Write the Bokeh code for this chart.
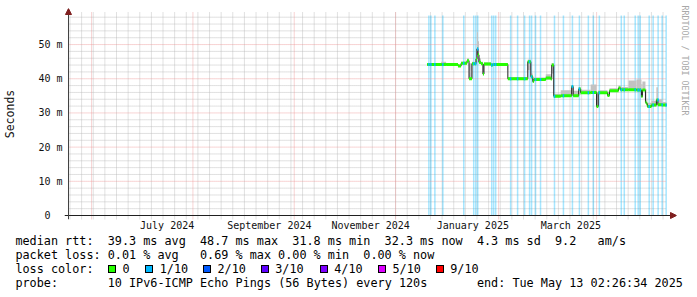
import numpy as np
import pandas as pd
from bokeh.plotting import figure
from bokeh.layouts import column
from bokeh.models import (Range1d, FixedTicker, Title, Arrow, NormalHead,
                          ColumnDataSource, Div)
from bokeh.embed import file_html
from bokeh.resources import INLINE

# ---------------------------------------------------------------- data
END_TIME = "2025-05-13 02:26:34"
SPAN_DAYS = 360

sample_time = [
    "2024-12-20 00:00", "2024-12-28 10:00", "2024-12-31 10:00", "2025-01-07 14:00",
    "2025-01-09 10:00", "2025-01-13 00:00", "2025-01-14 05:00", "2025-01-16 00:00",
    "2025-01-18 10:00", "2025-01-19 00:00", "2025-01-19 14:00", "2025-01-20 05:00",
    "2025-01-21 10:00", "2025-01-22 14:00", "2025-01-23 05:00", "2025-01-27 10:00",
    "2025-01-28 14:00", "2025-02-06 14:00", "2025-02-18 14:00", "2025-02-20 10:00",
    "2025-02-21 14:00", "2025-02-22 05:00", "2025-03-01 10:00", "2025-03-04 10:00",
    "2025-03-05 00:00", "2025-03-06 05:00", "2025-03-10 10:00", "2025-03-17 00:00",
    "2025-03-17 22:00", "2025-03-21 05:00", "2025-03-22 10:00", "2025-03-28 10:00",
    "2025-04-01 00:00", "2025-04-02 00:00", "2025-04-07 14:00", "2025-04-08 18:00",
    "2025-04-14 05:00", "2025-04-15 10:00", "2025-04-20 05:00", "2025-04-25 00:00",
    "2025-04-28 00:00", "2025-04-28 14:00", "2025-04-30 10:00", "2025-05-01 00:00",
    "2025-05-01 14:00", "2025-05-04 00:00", "2025-05-07 00:00", "2025-05-07 22:00",
    "2025-05-10 14:00",
]
median_ms = [44.2, 44.2, 44.2, 43.7, 44.5, 45.3, 40.0, 44.4, 45.8, 48.7, 47.0, 44.8,
             44.4, 41.4, 44.3, 44.0, 44.2, 40.0, 45.0, 40.6, 39.2, 39.8, 40.2, 39.9,
             44.0, 34.9, 35.0, 37.7, 35.0, 37.0, 35.9, 36.0, 31.9, 35.9, 35.1, 36.5,
             37.3, 36.8, 36.8, 36.7, 34.8, 36.7, 33.1, 32.7, 31.9, 32.3, 33.8, 32.4,
             32.3]
smoke_lo_ms = [43.9, 43.9, 43.9, 43.4, 44.1, 44.8, 39.6, 44.0, 44.8, 45.5, 44.8, 44.3,
               44.0, 41.0, 43.9, 43.7, 43.9, 39.7, 42.5, 40.2, 38.9, 39.5, 39.8, 39.6,
               41.5, 34.6, 34.7, 35.3, 34.7, 35.3, 35.6, 35.7, 31.6, 35.6, 34.8, 36.2,
               36.9, 36.5, 36.5, 36.4, 34.5, 36.4, 32.8, 32.3, 31.6, 31.9, 32.1, 32.0,
               32.0]
smoke_hi_ms = [44.6, 45.0, 44.6, 44.2, 45.0, 46.0, 44.5, 45.0, 49.0, 53.6, 51.0, 46.0,
               45.0, 44.2, 44.8, 44.5, 44.6, 40.5, 45.6, 41.5, 40.0, 40.4, 41.3, 41.4,
               44.6, 35.6, 36.6, 38.2, 36.5, 37.5, 36.8, 38.3, 36.2, 36.6, 36.2, 37.2,
               38.0, 37.6, 39.5, 39.8, 38.5, 39.2, 37.0, 34.2, 33.0, 33.6, 37.5, 34.0,
               33.2]

loss_time = [
    "2024-12-20 14:00", "2024-12-21 19:00", "2024-12-24 05:00", "2024-12-29 00:00",
    "2025-01-10 14:00", "2025-01-16 14:00", "2025-01-17 19:00", "2025-01-19 00:00",
    "2025-01-27 10:00", "2025-01-28 14:00", "2025-01-29 19:00", "2025-02-07 19:00",
    "2025-02-12 00:00", "2025-02-16 05:00", "2025-02-19 05:00", "2025-02-20 10:00",
    "2025-02-22 19:00", "2025-02-25 19:00", "2025-03-06 05:00", "2025-03-11 14:00",
    "2025-03-17 00:00", "2025-03-21 05:00", "2025-03-26 14:00", "2025-03-29 14:00",
    "2025-04-02 05:00", "2025-04-15 10:00", "2025-04-17 05:00", "2025-04-23 19:00",
    "2025-04-25 14:00", "2025-04-26 19:00", "2025-05-02 05:00", "2025-05-04 14:00",
    "2025-05-07 14:00", "2025-05-10 00:00", "2025-05-12 10:00",
]
loss_pings = [1, 1, 1, 1, 1, 1, 1, 1, 1, 1, 1, 1, 1, 1, 1, 1, 1, 1,
              1, 1, 1, 1, 1, 1, 1, 1, 1, 1, 1, 1, 1, 1, 1, 1, 1]

y_tick_values = [0, 10, 20, 30, 40, 50]
y_tick_labels = ["0\u00a0\u00a0", "10 m", "20 m", "30 m", "40 m", "50 m"]
label_months = ["2024-07", "2024-09", "2024-11", "2025-01", "2025-03"]
label_texts = ["July 2024", "September 2024", "November 2024", "January 2025", "March 2025"]
major_grid_dates = ["2024-06-01", "2024-08-01", "2024-10-01", "2024-12-01",
                    "2025-02-01", "2025-04-01"]

rtt_stat_names = ["avg", "max", "min", "now", "sd"]
rtt_stat_values = [39.3, 48.7, 31.8, 32.3, 4.3]
rtt_am_s = 9.2
loss_stat_names = ["avg", "max", "min", "now"]
loss_stat_values = [0.01, 0.69, 0.00, 0.00]
loss_color_labels = ["0", "1/10", "2/10", "3/10", "4/10", "5/10", "9/10"]
loss_color_hex = ["#26ff00", "#00b8ff", "#0059ff", "#5e00ff", "#7e00ff", "#dd00ff", "#ff0000"]
probe_text = "10 IPv6-ICMP Echo Pings (56 Bytes) every 120s"

# ---------------------------------------------------------------- helpers
def ms(ts):
    return int(pd.Timestamp(ts).value // 10**6)

FONT = "DejaVu Sans Mono"
t_end = pd.Timestamp(END_TIME)
t_start = t_end - pd.Timedelta(days=SPAN_DAYS)
Y_MAX = 58.5
PX_PER_DAY = 600 / SPAN_DAYS
PX_PER_MS = 200 / Y_MAX
x_lo = t_start - pd.Timedelta(days=4 / PX_PER_DAY)
x_hi = t_end + pd.Timedelta(days=10 / PX_PER_DAY)
y_lo = -4 / PX_PER_MS
y_hi = Y_MAX + 7 / PX_PER_MS
GRID_TOP = Y_MAX + 3 / PX_PER_MS

st = pd.to_datetime(sample_time)
st_next = pd.DatetimeIndex(list(st[1:]) + [t_end])
src = ColumnDataSource(dict(left=st, right=st_next, med=median_ms,
                            lo=smoke_lo_ms, hi=smoke_hi_ms))

lt = pd.to_datetime(loss_time)
LOSS_DUR = pd.Timedelta(hours=22)
idx = np.searchsorted(st.values, lt.values, side="right") - 1
loss_src = ColumnDataSource(dict(
    left=lt, right=lt + LOSS_DUR,
    med=np.array(median_ms)[idx],
    color=[loss_color_hex[k] for k in loss_pings],
))

# ---------------------------------------------------------------- main plot
p = figure(width=697, height=236, x_axis_type="datetime",
           x_range=Range1d(x_lo, x_hi), y_range=Range1d(y_lo, y_hi),
           output_backend="svg", toolbar_location=None,
           min_border_left=62, min_border_right=21, min_border_top=8,
           min_border_bottom=17)
p.outline_line_color = None
p.background_fill_color = "white"
p.border_fill_color = "white"
p.grid.visible = False

# grid lines (rrdtool style dotted)
week_ms = [ms(t) for t in pd.date_range(t_start.normalize(), t_end, freq="W-SUN")]
minor_y = [v for v in range(2, 59, 2) if v % 10]
major_x = [ms(d) for d in major_grid_dates]
major_y = y_tick_values[1:]
GRID_MINOR = "#b4b4b4"
GRID_MAJOR = "#ec8c8c"
p.segment(x0=week_ms, x1=week_ms, y0=y_lo, y1=GRID_TOP,
          line_color=GRID_MINOR, line_dash="1 1", line_width=1, line_alpha=0.8)
p.segment(x0=ms(t_start), x1=ms(t_end), y0=minor_y, y1=minor_y,
          line_color=GRID_MINOR, line_dash="1 1", line_width=1, line_alpha=0.8)

# loss background bars
p.quad(left="left", right="right", bottom=0, top=Y_MAX, source=loss_src,
       fill_color="color", fill_alpha=0.35, line_color=None)

p.segment(x0=major_x, x1=major_x, y0=y_lo, y1=GRID_TOP,
          line_color=GRID_MAJOR, line_dash="1 1", line_width=1, line_alpha=0.75)
p.segment(x0=ms(t_start), x1=ms(t_end), y0=major_y, y1=major_y,
          line_color=GRID_MAJOR, line_dash="1 1", line_width=1, line_alpha=0.75)

# smoke
p.quad(left="left", right="right", bottom="lo", top="hi", source=src,
       fill_color="#c2c2c2", line_color=None)
# median line
p.step(x=list(st) + [t_end], y=median_ms + [median_ms[-1]], mode="after",
       line_color="#202020", line_width=1)
# median band coloured by loss
p.segment(x0="left", x1="right", y0="med", y1="med", source=src,
          line_color=loss_color_hex[0], line_width=3)
p.segment(x0="left", x1="right", y0="med", y1="med", source=loss_src,
          line_color="color", line_width=3)

# axis lines through the value / time origin
p.segment(x0=ms(x_lo), x1=ms(x_hi), y0=0, y1=0, line_color="#202020", line_width=1)
p.segment(x0=ms(t_start), x1=ms(t_start), y0=y_lo, y1=y_hi,
          line_color="#404040", line_width=1)

# axes (labels)
label_ms = []
for m in label_months:
    a = pd.Timestamp(m + "-01")
    b = a + pd.offsets.MonthBegin(1)
    label_ms.append(ms(a + (b - a) / 2))
p.xaxis.ticker = FixedTicker(ticks=label_ms)
p.xaxis.major_label_overrides = dict(zip(label_ms, label_texts))
p.xaxis.axis_line_color = None
p.xaxis.major_tick_line_color = None
p.xaxis.major_tick_out = 0
p.xaxis.major_tick_in = 0
p.xaxis.minor_tick_line_color = None
p.xaxis.major_label_text_font = FONT
p.xaxis.major_label_text_font_size = "10px"
p.xaxis.major_label_text_color = "#111111"
p.xaxis.major_label_standoff = 0

p.yaxis.ticker = FixedTicker(ticks=y_tick_values)
p.yaxis.major_label_overrides = dict(zip(y_tick_values, y_tick_labels))
p.yaxis.axis_line_color = None
p.yaxis.major_tick_line_color = None
p.yaxis.major_tick_out = 0
p.yaxis.major_tick_in = 0
p.yaxis.minor_tick_line_color = None
p.yaxis.major_label_text_font = FONT
p.yaxis.major_label_text_font_size = "10px"
p.yaxis.major_label_text_color = "#111111"
p.yaxis.major_label_standoff = 2
p.yaxis.axis_label = "Seconds"
p.yaxis.axis_label_text_font = FONT
p.yaxis.axis_label_text_font_size = "11.5px"
p.yaxis.axis_label_text_font_style = "normal"
p.yaxis.axis_label_text_color = "#111111"
p.yaxis.axis_label_standoff = 18

# axis arrow heads
ARROW = "#7f1f1f"
p.add_layout(Arrow(x_start=ms(t_start), y_start=0, x_end=ms(t_start), y_end=y_hi,
                   line_color=None,
                   end=NormalHead(size=6, fill_color=ARROW, line_color=ARROW)))
p.add_layout(Arrow(x_start=ms(t_end), y_start=0, x_end=ms(x_hi), y_end=0,
                   line_color=None,
                   end=NormalHead(size=6, fill_color=ARROW, line_color=ARROW)))

# watermark
p.add_layout(Title(text="RRDTOOL / TOBI OETIKER", align="left", text_font=FONT,
                   text_font_size="8.3px", text_font_style="normal",
                   text_color="#a8a8a8", standoff=6, offset=-3), "right")

# ---------------------------------------------------------------- legend block
DIV_TOP = 236
FONT_PX = 11.8
CHAR_W = 7.1          # monospace advance of the legend font
TEXT_X0 = 15.4        # left edge of the legend text grid
line_baselines = [245, 259, 273, 287]
BASE_OFF = 11.1       # baseline offset inside a 14px line box

line1 = (["median rtt:"]
         + [f"{v:.1f} ms {n}" for v, n in zip(rtt_stat_values, rtt_stat_names)]
         + [f"{rtt_am_s:.1f}", "am/s"])
line1_col = [0, 13, 26, 39, 52, 65, 76, 82]
line2 = (["packet loss:"]
         + [f"{v:.2f} % {n}" for v, n in zip(loss_stat_values, loss_stat_names)])
line2_col = [0, 13, 26, 37, 49]
line4 = ["probe:", probe_text, "end: " + t_end.strftime("%a %b %d %H:%M:%S %Y")]
line4_col = [0, 13, 65]
swatch_x = [112.0, 149.2, 207.0, 264.7, 323.7, 382.0, 439.7]
SWATCH_CY = 269

parts = []
def put(x, baseline, text):
    top = baseline - DIV_TOP - BASE_OFF
    parts.append(f'<span style="position:absolute;left:{x:.1f}px;top:{top:.2f}px;'
                 f'white-space:pre;line-height:14px;">{text}</span>')

for row, cols, yb in ((line1, line1_col, line_baselines[0]),
                      (line2, line2_col, line_baselines[1]),
                      (["loss color:"], [0], line_baselines[2]),
                      (line4, line4_col, line_baselines[3])):
    for t, c in zip(row, cols):
        put(TEXT_X0 + c * CHAR_W, yb, t)
for lab, x, col in zip(loss_color_labels, swatch_x, loss_color_hex):
    put(x + 10.5, line_baselines[2], lab)
    parts.append(f'<span style="position:absolute;left:{x - 4:.1f}px;'
                 f'top:{SWATCH_CY - DIV_TOP - 4:.1f}px;width:8px;height:8px;'
                 f'box-sizing:border-box;border:1px solid #000;background:{col};"></span>')

html = (f'<div style="position:relative;width:697px;height:{297 - DIV_TOP}px;'
        f"font-family:'{FONT}';font-size:{FONT_PX}px;color:#000;background:#fff;"
        f'margin:0;padding:0;">' + "".join(parts) + "</div>")
legend = Div(text=html, width=697, height=297 - DIV_TOP, margin=0)

layout = column(p, legend, spacing=0)
open("out.html", "w").write(file_html(layout, INLINE))
